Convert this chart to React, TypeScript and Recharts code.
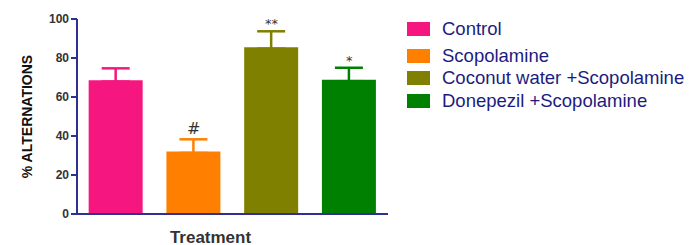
import React from 'react';
import { BarChart, Bar, XAxis, YAxis, ErrorBar, ReferenceDot } from 'recharts';

const categories = ['Control', 'Scopolamine', 'Coconut water +Scopolamine', 'Donepezil +Scopolamine'];
const means = [68.6, 32.0, 85.5, 68.8];
const sems = [6.1, 6.3, 8.2, 6.2];
const marks = ['', '#', '**', '*'];
const colors = ['#f5177f', '#ff8000', '#808000', '#008000'];
const yTicks = [0, 20, 40, 60, 80, 100];

const data = categories.map((c, i) => {
  const row: Record<string, any> = { name: c };
  row['v' + i] = means[i];
  row['e' + i] = [0.7, sems[i]];
  return row;
});

const AXIS = '#2e3192';
const FONT = 'Liberation Sans, Arial, sans-serif';
const legendCenters = [29, 56, 78, 101];

const LegendBox = () => (
  <div style={{ position: 'absolute', left: 407, top: 0, fontFamily: FONT, fontSize: 18.5, color: '#1c1c80' }}>
    {categories.map((c, i) => (
      <div key={c} style={{ position: 'absolute', left: 0, top: legendCenters[i] - 11, height: 22, display: 'flex', alignItems: 'center' }}>
        <div style={{ width: 23, height: 14, background: colors[i], marginRight: 12 }} />
        <span style={{ lineHeight: '22px', whiteSpace: 'nowrap' }}>{c}</span>
      </div>
    ))}
  </div>
);

export default function App() {
  return (
    <div style={{ position: 'absolute', left: 0, top: 0, width: 694, height: 245, background: '#fff' }}>
      <BarChart
        width={694}
        height={245}
        data={data}
        margin={{ top: 19, right: 306, left: 0, bottom: 0 }}
        barCategoryGap="15%"
      >
        <XAxis
          dataKey="name"
          tick={false}
          tickSize={6}
          axisLine={{ stroke: AXIS, strokeWidth: 2 }}
          tickLine={{ stroke: AXIS, strokeWidth: 2 }}
          height={31}
          label={{ value: 'Treatment', position: 'insideBottom', offset: 2, dx: -22, style: { fontFamily: FONT, fontWeight: 'bold', fontSize: 17, fill: '#333' } }}
        />
        <YAxis
          width={77}
          domain={[0, 100]}
          ticks={yTicks}
          interval={0}
          tickSize={6}
          axisLine={{ stroke: AXIS, strokeWidth: 2 }}
          tickLine={{ stroke: AXIS, strokeWidth: 2 }}
          tick={{ fontFamily: FONT, fontWeight: 'bold', fontSize: 12, fill: '#333' }}
          label={{ value: '% ALTERNATIONS', angle: -90, position: 'insideLeft', offset: 27, style: { textAnchor: 'middle', fontFamily: FONT, fontWeight: 'bold', fontSize: 14, fill: '#111' } }}
        />
        {categories.map((c, i) => (
          <Bar key={c} dataKey={'v' + i} stackId="s" fill={colors[i]} isAnimationActive={false}>
            <ErrorBar dataKey={'e' + i} direction="y" width={14} stroke={colors[i]} strokeWidth={2.5} />
          </Bar>
        ))}
        {categories.map((c, i) =>
          marks[i] ? (
            <ReferenceDot
              key={'m' + c}
              x={c}
              y={means[i] + sems[i]}
              r={0}
              fill="none"
              stroke="none"
              label={{ value: marks[i], position: 'top', offset: i === 1 ? 5 : 3, style: { fontFamily: 'DejaVu Sans, sans-serif', fontSize: i === 1 ? 16 : 13, fill: '#333' } }}
            />
          ) : null
        )}
      </BarChart>
      <LegendBox />
    </div>
  );
}
